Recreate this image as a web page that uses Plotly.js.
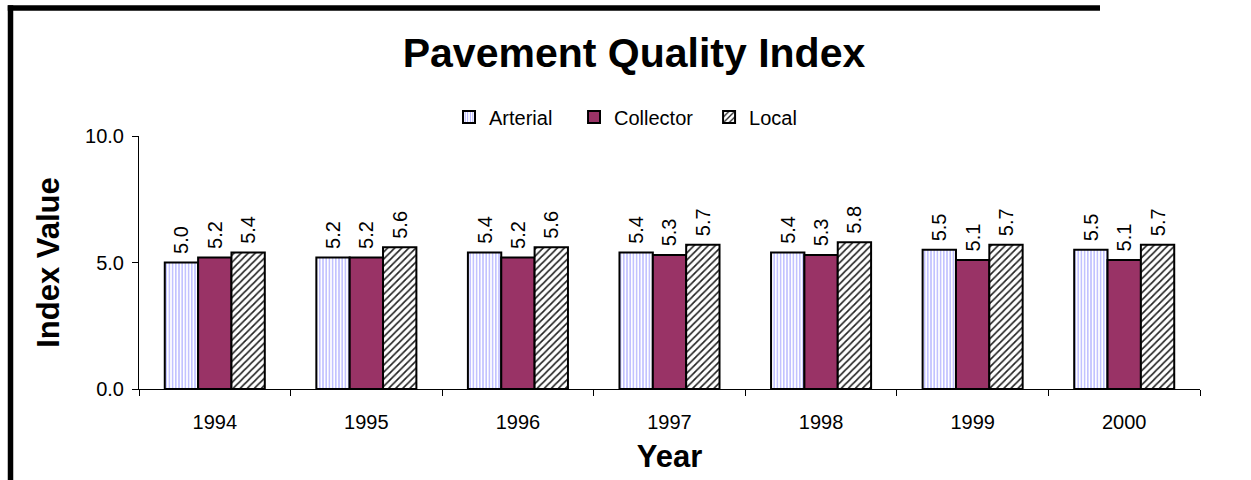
<!DOCTYPE html>
<html>
<head>
<meta charset="utf-8">
<script src="https://cdn.plot.ly/plotly-3.0.1.min.js"></script>
<style>
html,body{margin:0;padding:0;background:#fff;overflow:hidden;}
#chart{width:1251px;height:480px;}
</style>
</head>
<body>
<div id="chart"></div>
<script>
var years = ["1994", "1995", "1996", "1997", "1998", "1999", "2000"];
var arterial  = [5.0, 5.2, 5.4, 5.4, 5.4, 5.5, 5.5];
var collector = [5.2, 5.2, 5.2, 5.3, 5.3, 5.1, 5.1];
var local     = [5.4, 5.6, 5.6, 5.7, 5.8, 5.7, 5.7];
var seriesNames = ["Arterial", "Collector", "Local"];
var yTicks = [0, 5, 10];
var yTickText = ["0.0", "5.0", "10.0"];

var FONT = "Arial, 'Liberation Sans', sans-serif";

// leading no-break space gives the rotated labels their gap above the bar
function labels(arr){ return arr.map(function(v){ return "&nbsp;" + v.toFixed(1); }); }

var common = {
  type: "bar",
  x: years,
  textposition: "outside",
  textangle: -90,
  cliponaxis: false,
  textfont: {family: FONT, size: 20, color: "#000"},
  hoverinfo: "x+y"
};

var traces = [
  Object.assign({}, common, {
    name: seriesNames[0] + "&nbsp;&nbsp;&nbsp;", y: arterial, text: labels(arterial),
    marker: {color: "#ffffff", line: {color: "#000", width: 2},
      pattern: {shape: "|", fgcolor: "#9999ff", bgcolor: "#ffffff", size: 3.2, solidity: 0.3}}
  }),
  Object.assign({}, common, {
    name: seriesNames[1] + "&nbsp;&nbsp;", y: collector, text: labels(collector),
    marker: {color: "#993366", line: {color: "#000", width: 2}}
  }),
  Object.assign({}, common, {
    name: seriesNames[2], y: local, text: labels(local),
    marker: {color: "#ffffff", line: {color: "#000", width: 2},
      pattern: {shape: "/", fgcolor: "#222222", bgcolor: "#ffffff", size: 5, solidity: 0.33}}
  })
];

var L = 139, R = 1200, T = 136, B = 389;
var pw = R - L, ph = B - T;

function px(x){ return (x - L) / pw; }
function py(y){ return (B - y) / ph; }

var layout = {
  width: 1251, height: 480,
  margin: {l: L, r: 1251 - R, t: T, b: 480 - B},
  paper_bgcolor: "#fff", plot_bgcolor: "#fff",
  font: {family: FONT, size: 20, color: "#000"},
  barmode: "group",
  bargap: 0.34,
  bargroupgap: 0,
  showlegend: true,
  title: {
    text: "<b>Pavement Quality Index</b>",
    font: {family: FONT, size: 41, color: "#000"},
    xref: "container", yref: "container",
    x: 634 / 1251, y: 1 - 53 / 480, xanchor: "center", yanchor: "middle"
  },
  legend: {
    orientation: "h",
    x: px(449), xanchor: "left",
    y: py(117), yanchor: "middle",
    font: {family: FONT, size: 20, color: "#000"},
    bgcolor: "rgba(0,0,0,0)",
    traceorder: "normal"
  },
  xaxis: {
    type: "category",
    showgrid: false,
    showline: true, linecolor: "#000", linewidth: 1,
    ticks: "outside", tickson: "boundaries", ticklen: 6, tickcolor: "#000", tickwidth: 1,
    ticklabelstandoff: 15,
    tickfont: {family: FONT, size: 20, color: "#000"},
    title: {text: "<b>Year</b>", font: {family: FONT, size: 31, color: "#000"}, standoff: 13},
    automargin: false,
    zeroline: false
  },
  yaxis: {
    range: [0, 10],
    tickvals: yTicks, ticktext: yTickText,
    showgrid: false, zeroline: false,
    showline: true, linecolor: "#000", linewidth: 1,
    ticks: "outside", ticklen: 6, tickcolor: "#000", tickwidth: 1,
    ticklabelstandoff: 4,
    tickfont: {family: FONT, size: 20, color: "#000"},
    title: {text: "<b>Index Value</b>", font: {family: FONT, size: 31, color: "#000"}, standoff: 16},
    automargin: false
  },
  shapes: [
    {type: "rect", xref: "paper", yref: "paper",
     x0: px(7.75), x1: px(13.25), y0: py(480), y1: py(5.25),
     fillcolor: "#000", line: {width: 0}},
    {type: "rect", xref: "paper", yref: "paper",
     x0: px(7.75), x1: px(1100), y0: py(10.75), y1: py(5.25),
     fillcolor: "#000", line: {width: 0}}
  ]
};

Plotly.newPlot("chart", traces, layout, {displayModeBar: false, staticPlot: true});
</script>
</body>
</html>
